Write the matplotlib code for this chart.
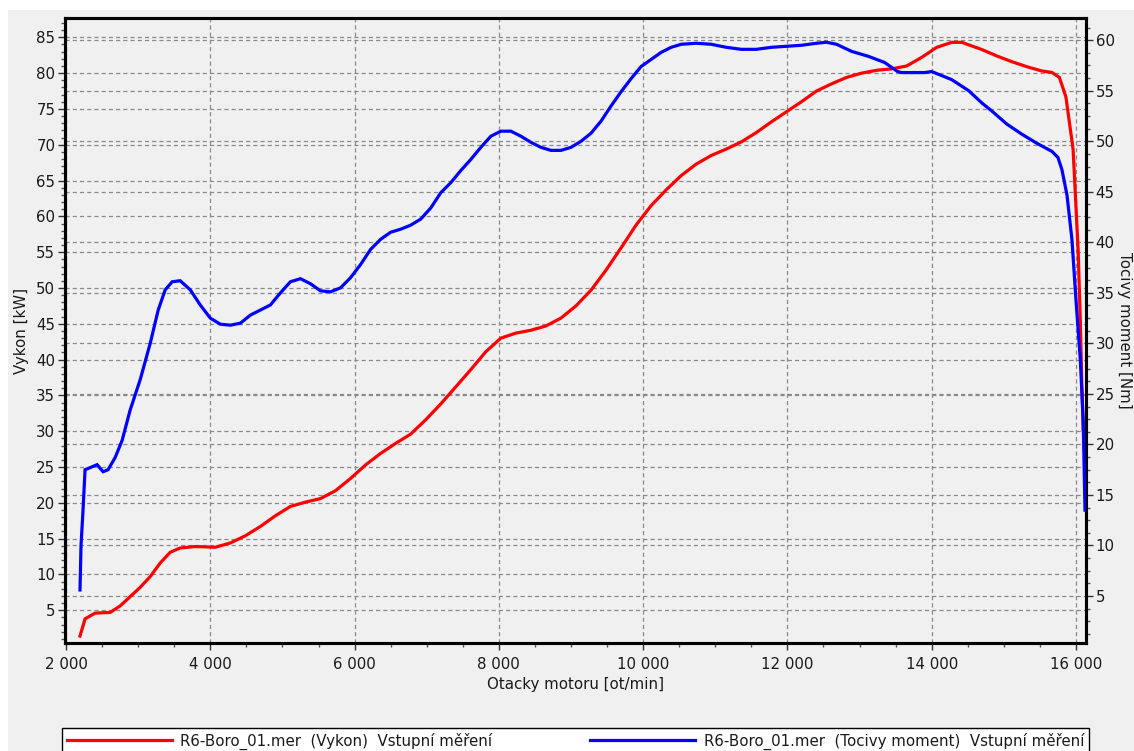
import matplotlib
matplotlib.use("Agg")
import matplotlib.pyplot as plt
from matplotlib.ticker import MultipleLocator, FuncFormatter
from matplotlib.transforms import blended_transform_factory
from matplotlib.patches import Rectangle

# power curve (left axis)
rpm_power = [2194, 2264, 2403, 2611, 2750, 2889, 3028, 3167, 3306, 3445, 3583, 3792,
             4069, 4278, 4486, 4694, 4903, 5111, 5319, 5528, 5736, 5944, 6153, 6361,
             6569, 6778, 6986, 7194, 7403, 7611, 7819, 8028, 8236, 8444, 8653, 8861,
             9069, 9278, 9486, 9694, 9903, 10111, 10319, 10528, 10736, 10944, 11153,
             11361, 11569, 11778, 11986, 12194, 12403, 12611, 12819, 13028, 13236,
             13444, 13653, 13861, 14069, 14278, 14420, 14500, 14694, 14903, 15111,
             15319, 15528, 15667, 15770, 15860, 15960, 16030, 16060, 16080, 16100, 16115]
power_kw = [1.4, 3.8, 4.6, 4.7, 5.6, 6.9, 8.2, 9.7, 11.6, 13.1, 13.7, 13.9,
            13.8, 14.4, 15.4, 16.7, 18.2, 19.5, 20.1, 20.6, 21.7, 23.4, 25.3, 26.9,
            28.3, 29.6, 31.6, 33.8, 36.2, 38.6, 41.1, 43.0, 43.7, 44.1, 44.7, 45.8,
            47.5, 49.7, 52.5, 55.6, 58.8, 61.5, 63.7, 65.7, 67.3, 68.5, 69.4,
            70.4, 71.7, 73.2, 74.6, 76.0, 77.5, 78.5, 79.4, 80.0, 80.4,
            80.6, 81.0, 82.2, 83.6, 84.3, 84.3, 84.0, 83.3, 82.4, 81.6,
            80.9, 80.3, 80.1, 79.4, 76.7, 69.4, 55.3, 45.5, 37.1, 30.2, 30.2]

# torque curve (right axis)
rpm_torque = [2194, 2208, 2236, 2264, 2333, 2431, 2514, 2583, 2681, 2778, 2889, 3028,
              3167, 3278, 3375, 3472, 3583, 3722, 3861, 4000, 4139, 4278, 4417, 4556,
              4694, 4833, 4972, 5111, 5250, 5389, 5528, 5667, 5806, 5944, 6083, 6222,
              6361, 6500, 6639, 6778, 6917, 7056, 7194, 7333, 7472, 7611, 7750, 7889,
              8028, 8167, 8306, 8444, 8583, 8722, 8861, 9000, 9139, 9278, 9417, 9556,
              9694, 9833, 9972, 10111, 10250, 10389, 10528, 10736, 10944, 11153, 11361,
              11569, 11778, 11986, 12194, 12403, 12542, 12681, 12889, 13125, 13347,
              13528, 13583, 13900, 14000, 14278, 14514, 14694, 14833, 15042, 15250,
              15458, 15667, 15750, 15805, 15875, 15944, 16000, 16060, 16100, 16125]
torque_nm = [5.6, 10.0, 13.5, 17.5, 17.7, 18.0, 17.3, 17.5, 18.7, 20.4, 23.4, 26.4,
             30.0, 33.3, 35.3, 36.1, 36.2, 35.3, 33.8, 32.5, 31.9, 31.8, 32.0, 32.8,
             33.3, 33.8, 35.0, 36.1, 36.4, 35.9, 35.2, 35.1, 35.5, 36.5, 37.8, 39.3,
             40.3, 41.0, 41.3, 41.7, 42.3, 43.4, 44.9, 45.9, 47.1, 48.2, 49.4, 50.5,
             51.0, 51.0, 50.5, 49.9, 49.4, 49.1, 49.1, 49.4, 50.0, 50.8, 52.0, 53.5,
             54.9, 56.2, 57.4, 58.1, 58.8, 59.3, 59.6, 59.7, 59.6, 59.3, 59.1,
             59.1, 59.3, 59.4, 59.5, 59.7, 59.8, 59.6, 58.9, 58.4, 57.8,
             56.9, 56.8, 56.8, 56.9, 56.1, 55.0, 53.8, 53.0, 51.7, 50.7,
             49.8, 49.0, 48.4, 47.2, 44.7, 40.3, 34.3, 28.4, 22.4, 13.5]

legend_labels = ["R6-Boro_01.mer  (Vykon)  Vstupní měření",
                 "R6-Boro_01.mer  (Tocivy moment)  Vstupní měření"]

plt.rcParams['font.family'] = ['DejaVu Sans']
plt.rcParams['font.size'] = 10.8
plt.rcParams['lines.scale_dashes'] = False

BG = '#f0f0f0'
GRID = '#8a8a8a'
TXT = '#1a1a1a'

fig = plt.figure(figsize=(11.34, 7.51), dpi=100, facecolor='white')
fig.patches.append(Rectangle((8 / 1134, 0), 1, 1 - 10 / 751, transform=fig.transFigure,
                             facecolor=BG, edgecolor='none', zorder=-10))

ax = fig.add_axes([65 / 1134, 108 / 751, (1086 - 65) / 1134, (643 - 18) / 751])
ax2 = ax.twinx()
ax.set_zorder(1)
ax2.set_zorder(2)
ax.set_facecolor(BG)
ax2.patch.set_visible(False)

ax.set_xlim(1986, 16139)
ax.set_ylim(0.43, 87.7)
ax2.set_ylim(0.35, 62.2)

thousands = FuncFormatter(lambda v, p: f"{int(v):,}".replace(",", " "))
ax.xaxis.set_major_locator(MultipleLocator(2000))
ax.xaxis.set_minor_locator(MultipleLocator(500))
ax.xaxis.set_major_formatter(thousands)
ax.yaxis.set_major_locator(MultipleLocator(5))
ax.yaxis.set_minor_locator(MultipleLocator(1))
ax2.yaxis.set_major_locator(MultipleLocator(5))
ax2.yaxis.set_minor_locator(MultipleLocator(1.25))

for a in (ax, ax2):
    for s in a.spines.values():
        s.set_linewidth(2.2)
        s.set_color('black')
    a.tick_params(which='major', length=5, width=1, color='#333333', labelcolor=TXT, pad=2)
    a.tick_params(which='minor', length=3, width=1, color='#555555')
ax.tick_params(axis='x', which='major', pad=5)

# grid: vertical rpm lines, horizontal lines for both y scales, all behind the curves
dash = (0, (3.0, 2.2))
for v in range(2000, 16001, 2000):
    ax.axvline(v, color=GRID, lw=0.9, ls=dash, zorder=0.5)
for v in range(5, 86, 5):
    ax.axhline(v, color=GRID, lw=0.9, ls=dash, zorder=0.5)
right_tr = blended_transform_factory(ax.transAxes, ax2.transData)
for v in range(5, 61, 5):
    ax.plot([0, 1], [v, v], transform=right_tr, color=GRID, lw=0.9, ls=dash, zorder=0.5)

line_p, = ax.plot(rpm_power, power_kw, color='#ff0000', lw=2.3, zorder=3,
                  solid_joinstyle='miter')
line_t, = ax2.plot(rpm_torque, torque_nm, color='#0000ff', lw=2.3, zorder=3,
                   solid_joinstyle='miter')

ax.set_xlabel("Otacky motoru [ot/min]", color=TXT, labelpad=4)
ax.set_ylabel("Vykon [kW]", color=TXT, labelpad=5)
ax2.set_ylabel("Tocivy moment [Nm]", color=TXT, rotation=270, labelpad=12)

leg = fig.legend([line_p, line_t], legend_labels, ncol=2, mode='expand',
                 loc='upper left',
                 bbox_to_anchor=(62 / 1134, 1 - 729 / 751, (1089 - 62) / 1134, 0.001),
                 frameon=True, fancybox=False, facecolor='white', edgecolor='black',
                 framealpha=1, handlelength=7.0, handletextpad=0.6, borderpad=0.3,
                 borderaxespad=0)
leg.get_frame().set_linewidth(1.0)
for t in leg.get_texts():
    t.set_color(TXT)

fig.savefig("out.png", dpi=100, facecolor=fig.get_facecolor())
